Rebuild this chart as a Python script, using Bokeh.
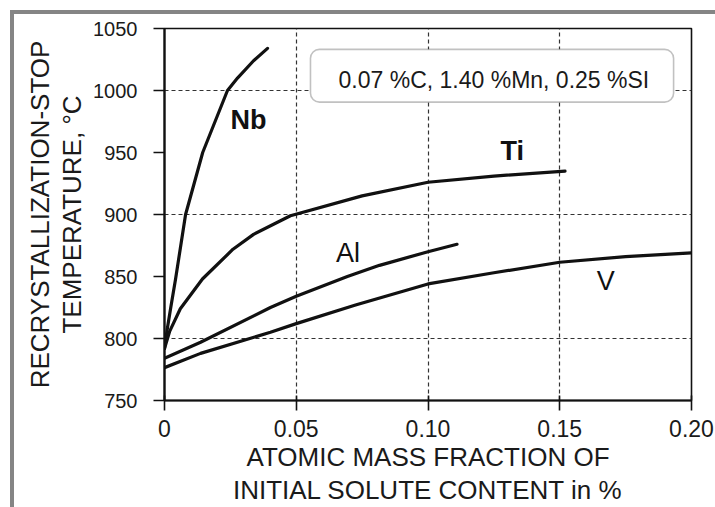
from bokeh.plotting import figure
from bokeh.models import (Range1d, FixedTicker, Label, BoxAnnotation, LinearAxis,
                          InlineStyleSheet)
from bokeh.embed import file_html
from bokeh.resources import INLINE

# ---- data ----
nb_x = [0.0, 0.001, 0.0023, 0.0042, 0.008, 0.0145, 0.0239, 0.0277, 0.0338, 0.0391]
nb_y = [792, 807, 824, 848, 900, 950, 1000, 1010, 1024, 1034]

ti_x = [0.0, 0.002, 0.006, 0.0144, 0.026, 0.0338, 0.0478, 0.075, 0.10, 0.125, 0.152]
ti_y = [792, 806, 824, 848, 872, 884, 899, 915, 926, 931, 935]

al_x = [0.0, 0.0137, 0.0402, 0.05, 0.0694, 0.0816, 0.10, 0.111]
al_y = [784, 797, 825, 834, 850, 859, 870, 876]

v_x = [0.0, 0.0137, 0.0402, 0.05, 0.0725, 0.10, 0.125, 0.15, 0.175, 0.20]
v_y = [776.5, 788, 805, 812, 827, 844, 853, 861.5, 866, 869]

x_ticks = [0.0, 0.05, 0.10, 0.15, 0.20]
x_tick_labels = ["0", "0.05", "0.10", "0.15", "0.20"]
y_ticks = [750, 800, 850, 900, 950, 1000, 1050]
y_grid = [800, 900, 1000]

series_names = ["Nb", "Ti", "Al", "V"]
composition = "0.07 %C, 1.40 %Mn, 0.25 %SI"
x_title = ["ATOMIC MASS FRACTION OF", "INITIAL SOLUTE CONTENT in %"]
y_title = ["RECRYSTALLIZATION-STOP", "TEMPERATURE, °C"]

FONT = "Liberation Sans"
INK = "#111111"
TXT = "#1a1a1a"

p = figure(width=715, height=507, output_backend="svg", toolbar_location=None,
           x_range=Range1d(0, 0.2), y_range=Range1d(750, 1050),
           min_border_left=164, min_border_right=24, min_border_top=28,
           min_border_bottom=105)
p.background_fill_color = "white"
p.border_fill_color = "white"
p.outline_line_color = INK
p.outline_line_width = 1.6

# main axes
for ax in (p.xaxis[0], p.yaxis[0]):
    ax.axis_line_color = INK
    ax.axis_line_width = 2.2
    ax.major_tick_line_color = INK
    ax.major_tick_line_width = 1.6
    ax.minor_tick_line_color = None
    ax.major_label_text_font = FONT
    ax.major_label_text_color = TXT
    ax.axis_label_text_font = FONT
    ax.axis_label_text_font_size = "26px"
    ax.axis_label_text_font_style = "normal"
    ax.axis_label_text_color = TXT

p.xaxis.ticker = FixedTicker(ticks=x_ticks)
p.xaxis.major_label_overrides = {t: l for t, l in zip(x_ticks, x_tick_labels)}
p.xaxis.major_tick_out = 10
p.xaxis.major_tick_in = 5
p.xaxis.major_label_standoff = 9
p.xaxis.major_label_text_font_size = "23px"
p.xaxis.axis_label = x_title[0]
p.xaxis.axis_label_standoff = 2

p.yaxis.ticker = FixedTicker(ticks=y_ticks)
p.yaxis.major_tick_out = 11
p.yaxis.major_tick_in = 0
p.yaxis.major_label_standoff = 16
p.yaxis.major_label_text_font_size = "20px"
p.yaxis.axis_label = y_title[1]
p.yaxis.axis_label_standoff = 3


def title_axis(text):
    a = LinearAxis(ticker=FixedTicker(ticks=[]), axis_label=text)
    a.axis_line_color = None
    a.major_tick_line_color = None
    a.minor_tick_line_color = None
    a.major_label_text_font_size = "0px"
    a.axis_label_standoff = 0
    a.axis_label_text_font = FONT
    a.axis_label_text_font_size = "26px"
    a.axis_label_text_font_style = "normal"
    a.axis_label_text_color = TXT
    return a


p.add_layout(title_axis(x_title[1]), "below")
p.add_layout(title_axis(y_title[0]), "left")

# grids
p.xgrid.ticker = FixedTicker(ticks=x_ticks)
p.ygrid.ticker = FixedTicker(ticks=y_grid)
for g in (p.xgrid[0], p.ygrid[0]):
    g.grid_line_color = "#333333"
    g.grid_line_width = 1.2
    g.grid_line_dash = "4 3"

# curves
for xs, ys in ((nb_x, nb_y), (ti_x, ti_y), (al_x, al_y), (v_x, v_y)):
    p.line(xs, ys, line_color=INK, line_width=3.2, line_join="round", line_cap="round")

# curve labels
lab_pos = {"Nb": (0.0319, 976, "bold"), "Ti": (0.132, 951, "bold"),
           "Al": (0.0696, 868.7, "normal"), "V": (0.1675, 846, "normal")}
for name in series_names:
    lx, ly, w = lab_pos[name]
    p.add_layout(Label(x=lx, y=ly, text=name, text_font=FONT, text_font_size="27px",
                       text_font_style=w, text_color=INK, text_align="center",
                       text_baseline="middle"))

# composition box
p.add_layout(BoxAnnotation(left=0.0554, right=0.1932, bottom=990.6, top=1033.2,
                           fill_color="white", fill_alpha=1.0, line_color="#333333",
                           line_width=1.6, border_radius=9, level="annotation"))
p.add_layout(Label(x=0.125, y=1008.3, text=composition, text_font=FONT,
                   text_font_size="23px", text_color=TXT, text_align="center",
                   text_baseline="middle"))

# outer grey frame of the scanned figure (drawn with CSS on the figure host)
p.stylesheets = [InlineStyleSheet(css="""
:host::before { content: ""; position: absolute; left: 10px; top: 10px; width: 4px;
  height: 497px; background: #858585; z-index: 50; pointer-events: none; }
:host::after { content: ""; position: absolute; left: 10px; top: 10px; width: 705px;
  height: 4px; background: #858585; z-index: 50; pointer-events: none; }
""")]

open("out.html", "w").write(file_html(p, INLINE))
